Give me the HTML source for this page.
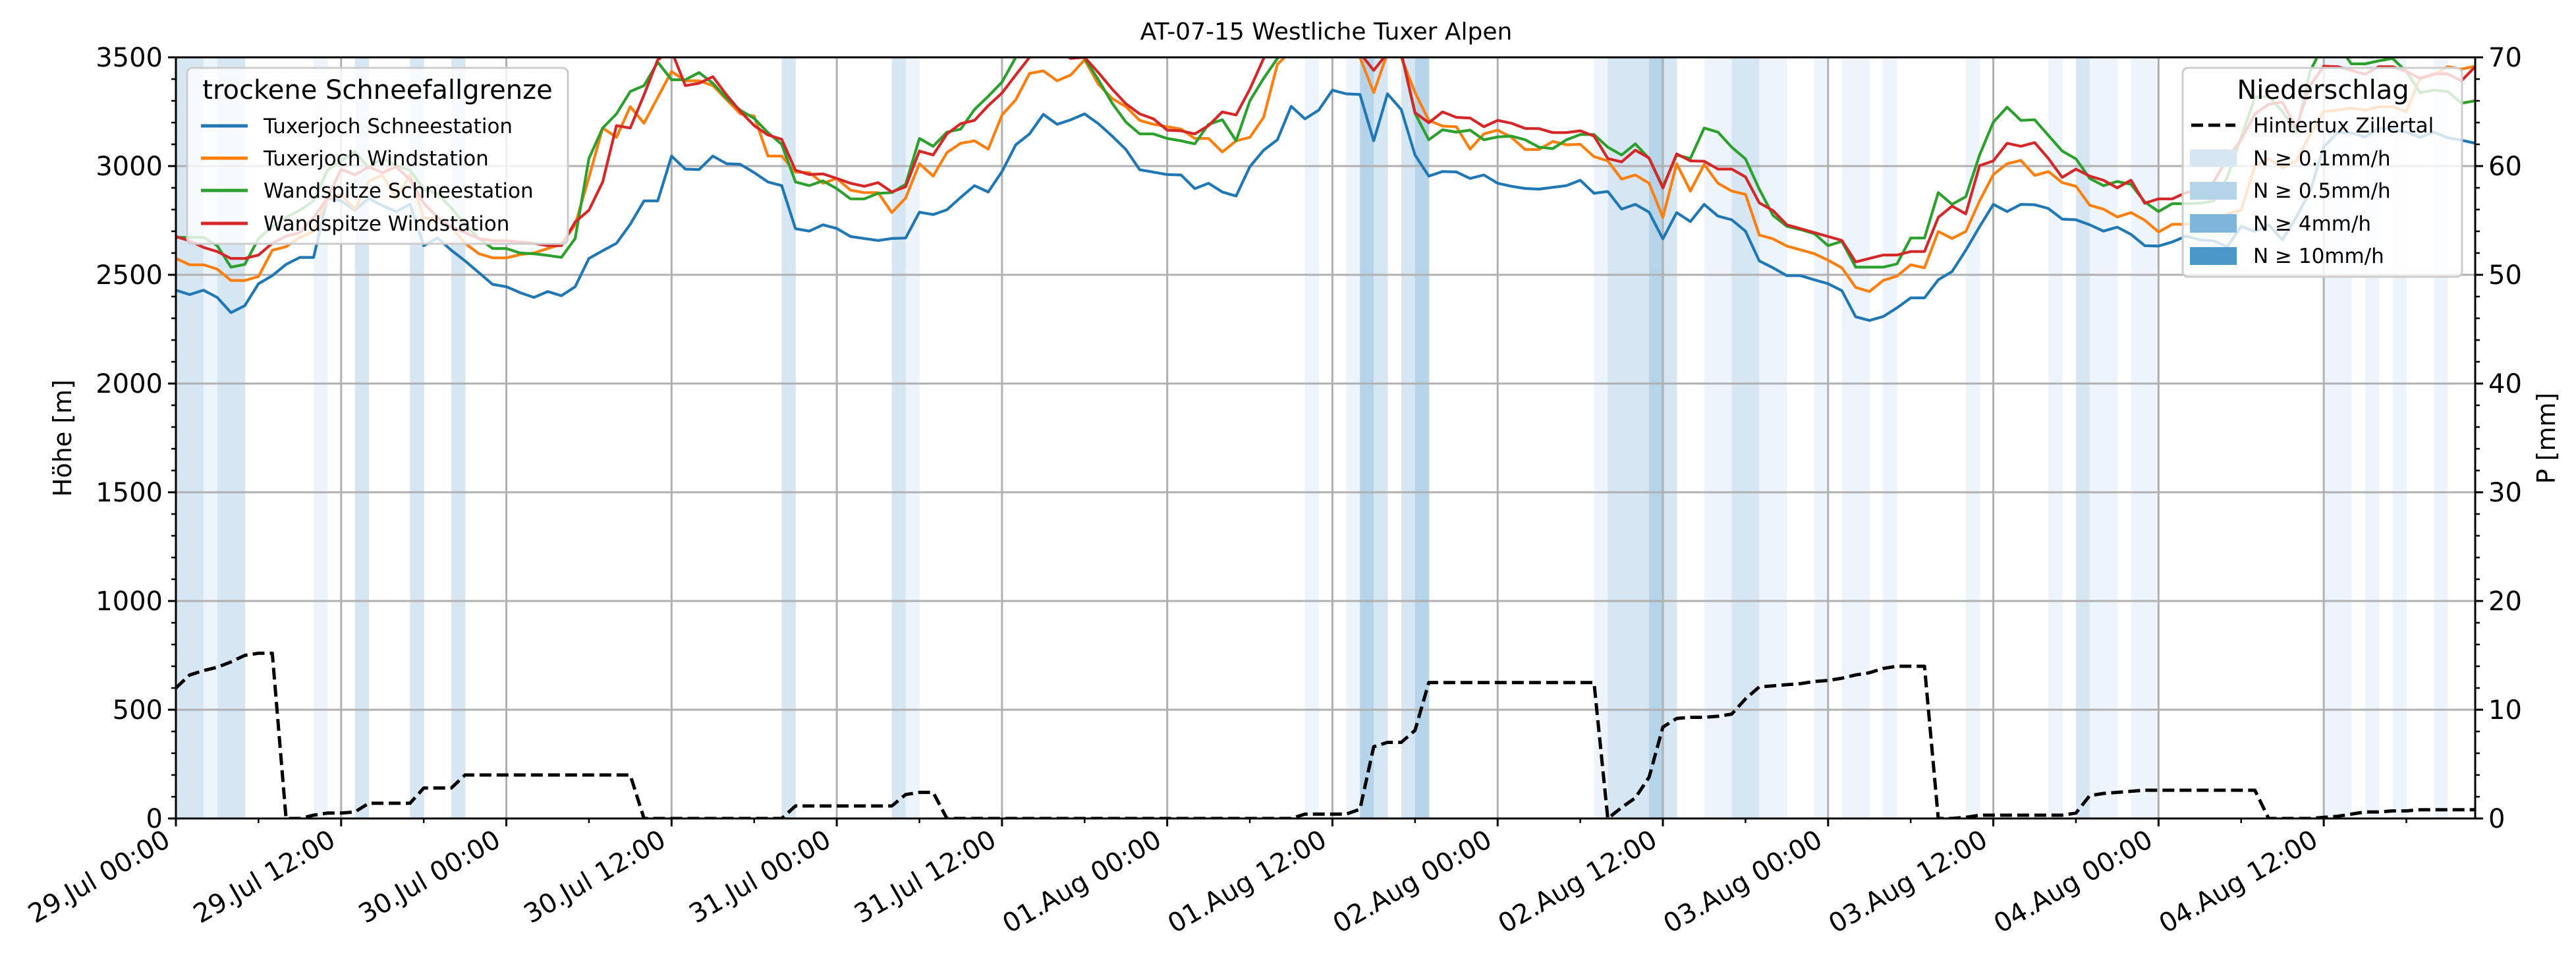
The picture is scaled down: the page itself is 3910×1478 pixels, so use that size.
<!DOCTYPE html>
<html><head><meta charset="utf-8">
<style>
html,body{margin:0;padding:0;background:#fff;}
svg{display:block;font-family:"DejaVu Sans","Liberation Sans",sans-serif;}
</style></head>
<body>
<svg id="chart" width="3910" height="1478" viewBox="0 0 3910 1478" xmlns="http://www.w3.org/2000/svg">
<defs><clipPath id="plotclip"><rect x="267" y="87" width="3490" height="1155"/></clipPath></defs>
<rect width="3910" height="1478" fill="#fff"/>
<g id="bands" clip-path="url(#plotclip)"></g>
<g id="grid"></g>
<g id="series" clip-path="url(#plotclip)"></g>
<g id="axes"></g>
<text x="2013" y="60" font-size="36" text-anchor="middle">AT-07-15 Westliche Tuxer Alpen</text>
<text transform="translate(108,665) rotate(-90)" font-size="38" text-anchor="middle">Höhe [m]</text>
<text transform="translate(3878,665) rotate(-90)" font-size="38" text-anchor="middle">P [mm]</text>
<g id="legend1">
<rect x="284" y="103" width="578" height="267" rx="8" fill="#fff" fill-opacity="0.8" stroke="#cccccc" stroke-width="3"/>
<text x="573" y="150" font-size="40" text-anchor="middle">trockene Schneefallgrenze</text>
<line x1="305" y1="191" x2="376" y2="191" stroke="#1f77b4" stroke-width="5"/>
<text x="400" y="202" font-size="31">Tuxerjoch Schneestation</text>
<line x1="305" y1="240" x2="376" y2="240" stroke="#ff7f0e" stroke-width="5"/>
<text x="400" y="251" font-size="31">Tuxerjoch Windstation</text>
<line x1="305" y1="289" x2="376" y2="289" stroke="#2ca02c" stroke-width="5"/>
<text x="400" y="300" font-size="31">Wandspitze Schneestation</text>
<line x1="305" y1="339" x2="376" y2="339" stroke="#d62728" stroke-width="5"/>
<text x="400" y="350" font-size="31">Wandspitze Windstation</text>
</g>
<g id="legend2">
<rect x="3313" y="103" width="424" height="317" rx="8" fill="#fff" fill-opacity="0.8" stroke="#cccccc" stroke-width="3"/>
<text x="3526" y="150" font-size="40" text-anchor="middle">Niederschlag</text>
<line x1="3326" y1="190" x2="3393" y2="190" stroke="#000" stroke-width="5" stroke-dasharray="18,8"/>
<text x="3420" y="201" font-size="31">Hintertux Zillertal</text>
<rect x="3324" y="227" width="71" height="26" fill="#d6e6f3"/>
<text x="3420" y="251" font-size="31">N ≥ 0.1mm/h</text>
<rect x="3324" y="276" width="71" height="27" fill="#b5d4e9"/>
<text x="3420" y="300" font-size="31">N ≥ 0.5mm/h</text>
<rect x="3324" y="325" width="71" height="28" fill="#7fb5d8"/>
<text x="3420" y="350" font-size="31">N ≥ 4mm/h</text>
<rect x="3324" y="375" width="71" height="27" fill="#4a98c9"/>
<text x="3420" y="399" font-size="31">N ≥ 10mm/h</text>
</g>
</svg>
<script>
const xTickLabels = ['29.Jul 00:00','29.Jul 12:00','30.Jul 00:00','30.Jul 12:00','31.Jul 00:00','31.Jul 12:00','01.Aug 00:00','01.Aug 12:00','02.Aug 00:00','02.Aug 12:00','03.Aug 00:00','03.Aug 12:00','04.Aug 00:00','04.Aug 12:00'];
const yTicks = [0,500,1000,1500,2000,2500,3000,3500];
const y2Ticks = [0,10,20,30,40,50,60,70];
const tuxSchnee = [2429,2409,2429,2396,2326,2358,2459,2496,2548,2580,2580,2851,2840,2797,2851,2818,2791,2824,2634,2669,2613,2564,2510,2456,2445,2418,2396,2423,2404,2445,2575,2611,2645,2732,2840,2840,3046,2986,2984,3046,3011,3008,2970,2927,2910,2712,2701,2730,2713,2676,2667,2658,2667,2669,2788,2777,2799,2856,2910,2881,2975,3098,3148,3238,3192,3213,3240,3195,3138,3076,2983,2972,2961,2959,2896,2921,2881,2862,2997,3073,3121,3275,3217,3257,3349,3332,3329,3116,3332,3260,3051,2954,2975,2973,2943,2959,2921,2907,2897,2894,2902,2910,2935,2875,2883,2802,2824,2788,2665,2786,2745,2824,2770,2753,2701,2564,2532,2496,2496,2477,2459,2427,2307,2290,2308,2348,2394,2394,2477,2515,2613,2721,2824,2791,2824,2822,2805,2756,2753,2730,2701,2719,2686,2634,2632,2651,2678,2661,2656,2629,2723,2699,2730,2661,2764,2883,3089,3154,3152,3134,3173,3170,3156,3132,3156,3130,3119,3105];
const tuxWind = [2575,2546,2546,2526,2474,2474,2492,2613,2629,2672,2699,2851,2872,2800,2930,2960,2850,2960,2760,2760,2720,2645,2597,2578,2578,2593,2600,2621,2640,2730,2948,3175,3132,3273,3197,3316,3435,3392,3392,3370,3305,3240,3230,3046,3046,2972,2970,2921,2943,2889,2878,2878,2786,2853,3011,2954,3062,3105,3116,3078,3235,3305,3426,3438,3392,3419,3489,3376,3311,3273,3210,3192,3181,3170,3127,3127,3065,3116,3132,3224,3468,3530,3540,3510,3520,3520,3500,3338,3520,3500,3338,3210,3184,3181,3078,3148,3165,3132,3076,3076,3113,3098,3100,3043,3024,2940,2959,2921,2764,3011,2885,3008,2921,2885,2870,2683,2665,2632,2615,2597,2567,2532,2442,2423,2474,2494,2546,2532,2699,2667,2699,2840,2961,3011,3026,2957,2975,2924,2907,2820,2802,2766,2786,2751,2697,2732,2732,2743,2753,2780,2797,3002,3035,2991,3024,3143,3251,3257,3267,3257,3273,3273,3251,3403,3419,3457,3446,3459];
const wandSchnee = [2672,2672,2672,2634,2535,2548,2667,2721,2764,2797,2840,2981,3024,3067,2991,3035,3002,2981,2894,2872,2808,2732,2667,2621,2621,2600,2597,2589,2580,2667,3035,3175,3240,3343,3370,3478,3397,3397,3430,3381,3311,3257,3219,3154,3100,2927,2910,2932,2896,2849,2849,2875,2878,2916,3127,3091,3156,3170,3260,3321,3386,3500,3560,3580,3560,3560,3495,3397,3289,3202,3148,3148,3127,3116,3102,3192,3213,3116,3300,3403,3495,3560,3580,3580,3560,3540,3530,3510,3540,3520,3242,3121,3167,3156,3165,3121,3134,3138,3121,3087,3080,3121,3145,3145,3087,3051,3102,3035,2905,3051,3035,3175,3156,3087,3033,2894,2773,2723,2708,2689,2634,2654,2535,2535,2535,2550,2669,2669,2878,2824,2859,3051,3202,3271,3210,3213,3141,3069,3033,2943,2910,2929,2916,2835,2791,2827,2827,2829,2840,2948,3132,3316,3321,3251,3154,3435,3560,3560,3470,3470,3484,3495,3435,3338,3349,3343,3289,3300];
const wandWind = [2676,2656,2626,2607,2575,2575,2591,2645,2678,2694,2764,2851,2986,2959,2997,2970,2997,2937,2829,2764,2721,2694,2667,2656,2656,2651,2645,2634,2634,2743,2797,2927,3186,3175,3327,3489,3530,3370,3381,3411,3327,3251,3186,3143,3123,2981,2961,2964,2943,2921,2907,2924,2881,2905,3069,3051,3148,3195,3210,3278,3336,3419,3500,3540,3530,3495,3500,3430,3354,3286,3240,3217,3165,3162,3148,3186,3249,3235,3354,3495,3560,3580,3560,3540,3530,3530,3520,3440,3520,3520,3246,3199,3249,3224,3221,3181,3210,3197,3173,3172,3154,3154,3162,3138,3035,3019,3073,3037,2899,3056,3024,3022,2986,2986,2950,2831,2795,2730,2712,2694,2676,2658,2559,2575,2591,2591,2607,2607,2764,2816,2780,3002,3024,3105,3091,3108,3035,2948,2986,2954,2935,2900,2935,2829,2849,2849,2878,2894,2927,3035,3121,3240,3284,3294,3175,3370,3459,3457,3440,3422,3457,3457,3435,3403,3424,3424,3392,3457];
const precipMM = [12,13.2,13.6,13.9,14.4,15,15.2,15.2,0,0,0.3,0.5,0.5,0.6,1.4,1.4,1.4,1.4,2.8,2.8,2.8,4,4,4,4,4,4,4,4,4,4,4,4,4,0,0,0,0,0,0,0,0,0,0,0,1.15,1.15,1.15,1.15,1.15,1.15,1.15,1.15,2.2,2.4,2.4,0,0,0,0,0,0,0,0,0,0,0,0,0,0,0,0,0,0,0,0,0,0,0,0,0,0,0.4,0.4,0.4,0.4,0.85,6.6,7,7,8.1,12.5,12.5,12.5,12.5,12.5,12.5,12.5,12.5,12.5,12.5,12.5,12.5,12.5,0,1,1.9,3.8,8.4,9.2,9.3,9.3,9.4,9.6,11,12.1,12.2,12.3,12.4,12.6,12.7,12.9,13.2,13.4,13.8,14,14,14,0,0,0.1,0.3,0.3,0.3,0.3,0.3,0.3,0.3,0.5,2.1,2.3,2.4,2.5,2.6,2.6,2.6,2.6,2.6,2.6,2.6,2.6,2.6,0,0,0,0,0.1,0.2,0.4,0.6,0.6,0.7,0.7,0.8,0.8,0.8,0.8,0.8];
const bandHours = [0,1,2,3,4,10,13,17,20,44,52,53,82,85,86,87,89,90,103,104,105,106,107,108,111,112,113,114,115,116,119,121,122,124,130,136,138,139,140,142,143,156,157,159,161,164];
const bandLevels = [2,2,1,2,2,1,2,2,2,2,2,1,1,1,3,2,2,3,1,2,2,2,3,2,1,1,2,2,1,1,1,1,1,1,1,1,2,1,1,1,1,1,1,1,1,1];

const NS='http://www.w3.org/2000/svg';
const L=267,R=3757,T=87,B=1242,HMAX=167;
const xs=h=>L+(h/HMAX)*(R-L);
const ys=v=>B-(v/3500)*(B-T);
const ys2=v=>B-(v/70)*(B-T);
function mk(tag,attrs,parent){const e=document.createElementNS(NS,tag);for(const k in attrs)e.setAttribute(k,attrs[k]);parent.appendChild(e);return e;}
const bandColors=['none','#eef4fb','#d6e6f3','#b5d4e9','#7fb5d8','#4a98c9'];
const gB=document.getElementById('bands');
bandHours.forEach((h,i)=>{
  const r=mk('rect',{x:xs(h),y:T,width:xs(h+1)-xs(h)+0.5,height:B-T,fill:bandColors[bandLevels[i]]},gB);
  
  
});
const gG=document.getElementById('grid');
xTickLabels.forEach((t,i)=>{
  const l=mk('line',{x1:xs(i*12),x2:xs(i*12),y1:T,y2:B,stroke:'#b0b0b0','stroke-width':3},gG);
  
  
});
yTicks.forEach(v=>{
  const l=mk('line',{x1:L,x2:R,y1:ys(v),y2:ys(v),stroke:'#b0b0b0','stroke-width':3},gG);
  
  
});
const gS=document.getElementById('series');
function line(data,color,name,dash,sc){
  const pts=data.map((v,i)=>xs(i).toFixed(1)+','+sc(v).toFixed(1)).join(' ');
  const p=mk('polyline',{points:pts,fill:'none',stroke:color,'stroke-width':dash?5:4.2,'stroke-linejoin':'round'},gS);
  if(dash)p.setAttribute('stroke-dasharray','18,8');
  
  
}
line(tuxSchnee,'#1f77b4','line-tuxerjoch-schneestation',false,ys);
line(tuxWind,'#ff7f0e','line-tuxerjoch-windstation',false,ys);
line(wandSchnee,'#2ca02c','line-wandspitze-schneestation',false,ys);
line(wandWind,'#d62728','line-wandspitze-windstation',false,ys);
line(precipMM,'#000','line-hintertux-precip',true,ys2);
const gA=document.getElementById('axes');
const frame=mk('rect',{x:L,y:T,width:R-L,height:B-T,fill:'none',stroke:'#000','stroke-width':3},gA);


for(let v=0;v<=3500;v+=100){const mj=v%500===0;mk('line',{x1:L,x2:L-(mj?12:7),y1:ys(v),y2:ys(v),stroke:'#000','stroke-width':mj?3:2.5},gA);}
for(let v=0;v<=70;v+=2){const mj=v%10===0;mk('line',{x1:R,x2:R+(mj?12:7),y1:ys2(v),y2:ys2(v),stroke:'#000','stroke-width':mj?3:2.5},gA);}
for(let h=0;h<=HMAX;h+=6){const mj=h%12===0;mk('line',{x1:xs(h),x2:xs(h),y1:B,y2:B+(mj?12:7),stroke:'#000','stroke-width':mj?3:2.5},gA);}
yTicks.forEach(v=>{
  const t=mk('text',{x:L-20,y:ys(v)+14,'font-size':40,'text-anchor':'end'},gA);
  t.textContent=v;
  
  
});
y2Ticks.forEach(v=>{
  const t=mk('text',{x:R+20,y:ys2(v)+14,'font-size':40,'text-anchor':'start'},gA);
  t.textContent=v;
  
  
});
xTickLabels.forEach((s,i)=>{
  const x=xs(i*12)-6,y=B+40;
  const t=mk('text',{x:x,y:y,'font-size':40,'text-anchor':'end',transform:'rotate(-30 '+x+' '+y+')'},gA);
  t.textContent=s;
  
  
});
</script>
</body></html>
